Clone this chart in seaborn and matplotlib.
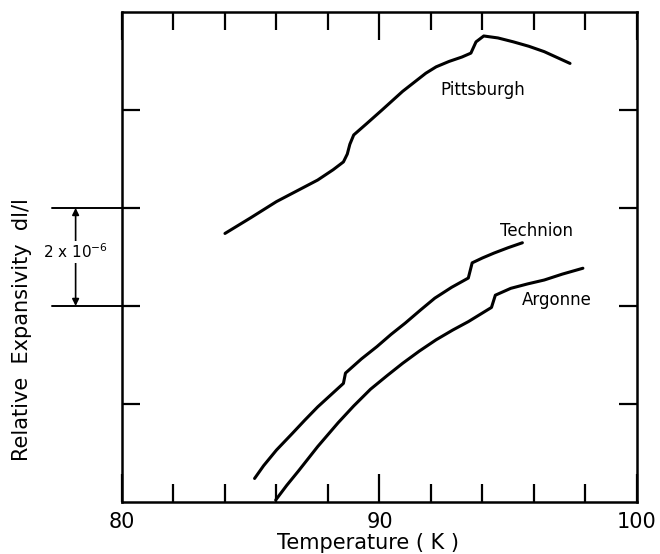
import matplotlib
matplotlib.use("Agg")
import matplotlib.pyplot as plt
import seaborn as sns
import pandas as pd

# temperature (K) and relative expansivity (units of 1e-6, arbitrary offset)
pitt_T = [84.0, 85.0, 86.0, 86.8, 87.6, 88.2, 88.6, 88.75, 88.85, 89.0, 89.5, 90.1, 90.9,
          91.8, 92.2, 92.7, 93.2, 93.55, 93.75, 94.05, 94.6, 95.2, 95.8, 96.4, 96.9, 97.4]
pitt_y = [5.48, 5.8, 6.13, 6.35, 6.57, 6.78, 6.94, 7.1, 7.3, 7.49, 7.72, 8.0, 8.38,
          8.75, 8.88, 8.99, 9.08, 9.16, 9.39, 9.51, 9.47, 9.39, 9.3, 9.19, 9.07, 8.95]

tech_T = [85.15, 85.5, 86.0, 86.6, 87.1, 87.6, 88.1, 88.6, 88.68, 89.3, 89.9, 90.45, 91.0,
          91.6, 92.15, 92.8, 93.45, 93.6, 94.0, 94.45, 95.0, 95.55]
tech_y = [0.48, 0.74, 1.06, 1.39, 1.67, 1.94, 2.18, 2.42, 2.63, 2.92, 3.17, 3.42, 3.65,
          3.92, 4.16, 4.38, 4.57, 4.88, 4.98, 5.08, 5.19, 5.29]

argo_T = [85.97, 86.4, 86.85, 87.6, 88.4, 89.0, 89.65, 90.3, 90.9, 91.55, 92.2, 92.85,
          93.45, 94.35, 94.5, 95.1, 95.75, 96.4, 97.1, 97.9]
argo_y = [0.04, 0.34, 0.63, 1.13, 1.62, 1.96, 2.3, 2.58, 2.83, 3.08, 3.31, 3.51,
          3.68, 3.97, 4.22, 4.36, 4.45, 4.53, 4.65, 4.77]

labels = ["Pittsburgh", "Technion", "Argonne"]
label_pos = [(94.0, 8.41), (96.1, 5.53), (96.9, 4.12)]

x_ticks = [80, 90, 100]
x_minor = [82, 84, 86, 88, 92, 94, 96, 98]
y_ticks = [2, 4, 6, 8]

sns.set_style("ticks")
plt.rcParams["font.family"] = ["DejaVu Sans"]
plt.rcParams["text.color"] = "black"
plt.rcParams["xtick.color"] = "black"
plt.rcParams["ytick.color"] = "black"
plt.rcParams["axes.edgecolor"] = "black"

df = pd.concat([
    pd.DataFrame({"T": pitt_T, "e": pitt_y, "lab": "Pittsburgh"}),
    pd.DataFrame({"T": tech_T, "e": tech_y, "lab": "Technion"}),
    pd.DataFrame({"T": argo_T, "e": argo_y, "lab": "Argonne"}),
])

fig = plt.figure(figsize=(6.6, 5.54), dpi=100)
ax = fig.add_axes([0.1848, 0.0939, 0.7803, 0.8845])

sns.lineplot(data=df, x="T", y="e", hue="lab", units="lab", estimator=None,
             palette=["black"] * 3, linewidth=2.2, legend=False, ax=ax)

for name, (tx, ty) in zip(labels, label_pos):
    ax.text(tx, ty, name, fontsize=12, ha="center", va="center")

ax.set_xlim(80, 100)
ax.set_ylim(0, 10)
ax.set_xticks(x_ticks)
ax.set_xticks(x_minor, minor=True)
ax.set_yticks(y_ticks)
ax.set_yticklabels([])
ax.tick_params(axis="x", which="major", direction="in", length=20, width=1.6,
               top=True, labelsize=15, pad=7)
ax.tick_params(axis="x", which="minor", direction="in", length=13, width=1.6, top=True)
ax.tick_params(axis="y", which="major", direction="in", length=13, width=1.6, right=True)
for s in ax.spines.values():
    s.set_linewidth(1.8)
ax.set_xlabel("")
ax.set_ylabel("")

fig.text(368 / 660, 1 - 543 / 554, "Temperature ( K )", fontsize=15, ha="center", va="center")
fig.text(22 / 660, 1 - 330 / 554, "Relative  Expansivity  dl/l", fontsize=15,
         rotation=90, ha="center", va="center")

# scale bar: one y tick interval = 2 x 10^-6
tr = ax.get_yaxis_transform()
for yy in (4, 6):
    ax.plot([-0.135, 0], [yy, yy], transform=tr, color="black", lw=1.4, clip_on=False)
ax.annotate("", xy=(-0.09, 6), xytext=(-0.09, 4), xycoords=tr, textcoords=tr,
            arrowprops=dict(arrowstyle="<|-|>", color="black", lw=1.2,
                            mutation_scale=10, shrinkA=0, shrinkB=0))
ax.text(-0.09, 5.1, r"2 x 10$^{-6}$", transform=tr, fontsize=11, ha="center", va="center",
        bbox=dict(facecolor="white", edgecolor="none", pad=1))

fig.savefig("out.png", dpi=100)
